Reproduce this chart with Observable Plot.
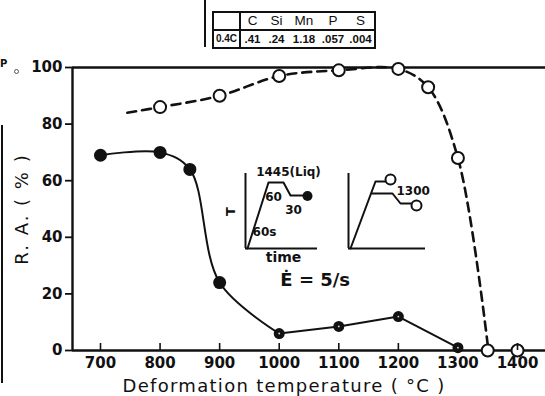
<!DOCTYPE html>
<html><head><meta charset="utf-8">
<script src="https://cdn.jsdelivr.net/npm/d3@7"></script>
<script src="https://cdn.jsdelivr.net/npm/@observablehq/plot@0.6"></script>
<style>
body{margin:0;background:#fff;}
#wrap{position:relative;width:545px;height:396px;overflow:hidden;font-family:"DejaVu Sans",sans-serif;color:#111;background:#fff;}
#wrap svg{position:absolute;overflow:visible;}
table.comp{position:absolute;left:212px;top:11px;border-collapse:collapse;table-layout:fixed;font-family:"Liberation Sans",sans-serif;font-size:11.5px;font-weight:bold;border:2px solid #111;}
table.comp td{padding:0;height:16px;line-height:16px;text-align:center;white-space:nowrap;}
table.comp tr.hdr td{border-bottom:2px solid #111;font-weight:normal;font-size:13.5px;}
table.comp td.first{border-right:2px solid #111;font-size:10px;}
.bar{position:absolute;background:#111;}
.frag{position:absolute;font-family:"DejaVu Sans",sans-serif;font-weight:bold;color:#111;}
.ring{position:absolute;border:1px solid #555;border-radius:50%;}
</style></head><body><div id="wrap"></div>
<script>
// ---- data ----
const elements = ["C", "Si", "Mn", "P", "S"];
const steelGrade = "0.4C";
const composition = [".41", ".24", "1.18", ".057", ".004"];
const colWidths = [27, 24, 25, 30, 28, 28];

const xTicks = [700, 800, 900, 1000, 1100, 1200, 1300, 1400];
const yTicks = [0, 20, 40, 60, 80, 100];

// filled circles, solid line
const solidTemp = [700, 800, 850, 900, 1000, 1100, 1200, 1300];
const solidRA   = [69, 70, 64, 24, 6, 8.5, 12, 1];

// open circles, dashed line
const openTemp = [800, 900, 1000, 1100, 1200, 1250, 1300, 1350, 1400];
const openRA   = [86, 90, 97, 99, 99.5, 93, 68, 0, 0];
const dashTemp = [745, 800, 900, 1000, 1100, 1200, 1250, 1300, 1350];
const dashRA   = [84, 86, 90, 97, 99, 99.5, 93, 68, 2];

// inset 1 : T-time schedule (schematic units)
const in1Time = [2, 23, 38, 45, 60];
const in1Temp = [0, 66, 66, 53, 53];
const in1EndTime = [62], in1EndTemp = [52.5];
const in1Labels = ["1445(Liq)", "60", "30", "60s"];
const in1LabelTime = [43, 28, 48, 19];
const in1LabelTemp = [76, 51, 38, 16];

// inset 2
const in2UpTime = [2, 27, 40];
const in2UpTemp = [0, 67, 67];
const in2LowTime = [23, 44, 52, 64];
const in2LowTemp = [55, 55, 45, 45];
const in2EndTime = [42, 68], in2EndTemp = [69, 43];
const in2Label = "1300";

const xTitle = "Deformation temperature ( °C )";
const yTitle = "R. A. ( % )";
const rateLabel = "Ė = 5/s";

// ---- build ----
const wrap = document.getElementById("wrap");
const ink = "#111";
const solid = solidTemp.map((t, i) => ({t, ra: solidRA[i]}));
const open = openTemp.map((t, i) => ({t, ra: openRA[i]}));
const dash = dashTemp.map((t, i) => ({t, ra: dashRA[i]}));
const plotH = 396 - 67 - 46;

const main = Plot.plot({
  width: 545, height: 396,
  marginLeft: 72, marginRight: 0, marginTop: 67, marginBottom: 46,
  x: {domain: [653, 1447]},
  y: {domain: [0, 100]},
  style: {fontFamily: "DejaVu Sans", color: ink, background: "transparent"},
  marks: [
    Plot.ruleY([0, 100], {stroke: ink, strokeWidth: 2.4}),
    Plot.ruleX([653], {stroke: ink, strokeWidth: 2.4}),
    Plot.ruleX(xTicks, {stroke: ink, strokeWidth: 1.6, insetTop: plotH - 7}),
    Plot.axisY({ticks: yTicks, tickSize: 7, tickPadding: 3, fontSize: 15, fontWeight: "bold", tickFormat: "d", strokeWidth: 1.8, label: null}),
    Plot.axisX({ticks: xTicks, tickSize: 0, tickPadding: 7, fontSize: 15, fontWeight: "bold", tickFormat: "d", label: null}),
    Plot.text([yTitle], {frameAnchor: "left", textAnchor: "middle", lineAnchor: "middle", rotate: -90, dx: -50, fontSize: 18, fill: ink, className: "ytitle"}),
    Plot.text([xTitle], {frameAnchor: "bottom", textAnchor: "middle", lineAnchor: "middle", dy: 36, dx: -25, fontSize: 18, fill: ink, className: "xtitle"}),
    Plot.text([rateLabel], {x: 1000, y: 25, dx: 36, fontSize: 18, fontWeight: "bold", fill: ink}),
    Plot.line(solid.filter(d => d.t <= 1000), {x: "t", y: "ra", curve: "catmull-rom", stroke: ink, strokeWidth: 2}),
    Plot.line(solid.filter(d => d.t >= 1000), {x: "t", y: "ra", stroke: ink, strokeWidth: 2}),
    Plot.line(dash, {x: "t", y: "ra", curve: "catmull-rom", stroke: ink, strokeWidth: 2.6, strokeDasharray: "9,6"}),
    Plot.dot(open, {x: "t", y: "ra", r: 6, fill: "white", stroke: ink, strokeWidth: 2}),
    Plot.ruleX(open.filter(d => d.t === 1400), {x: "t", y1: 0, y2: 2.2, stroke: ink, strokeWidth: 1.6}),
    Plot.dot(solid.filter(d => d.t < 1000), {x: "t", y: "ra", r: 6.5, fill: ink}),
    Plot.dot(solid.filter(d => d.t >= 1000), {x: "t", y: "ra", r: 5.5, fill: ink}),
    Plot.dot(solid.filter(d => d.t >= 1000), {x: "t", y: "ra", r: 0.9, fill: "#ddd"})
  ]
});
main.style.left = "0px"; main.style.top = "0px";
wrap.appendChild(main);
main.querySelectorAll(".xtitle text").forEach(t => t.style.letterSpacing = "1.3px");
main.querySelectorAll(".ytitle text").forEach(t => t.style.letterSpacing = "2px");

function insetPlot(marks) {
  return Plot.plot({
    width: 110, height: 105, margin: 0,
    x: {domain: [-23, 87], range: [0, 110]},
    y: {domain: [-17, 88], range: [105, 0]},
    axis: null,
    style: {fontFamily: "DejaVu Sans", color: ink, background: "transparent"},
    marks
  });
}

const in1 = in1Time.map((t, i) => ({t, T: in1Temp[i]}));
const in1Lab = in1Labels.map((s, i) => ({s, t: in1LabelTime[i], T: in1LabelTemp[i]}));
const inset1 = insetPlot([
  Plot.ruleX([0], {y1: 0, y2: 75, stroke: ink, strokeWidth: 2}),
  Plot.ruleY([0], {x1: 0, x2: 72, stroke: ink, strokeWidth: 2}),
  Plot.line(in1, {x: "t", y: "T", stroke: ink, strokeWidth: 2}),
  Plot.dot(in1EndTime.map((t, i) => ({t, T: in1EndTemp[i]})), {x: "t", y: "T", r: 5, fill: ink}),
  Plot.text(in1Lab, {x: "t", y: "T", text: "s", fontSize: 12, fontWeight: "bold", fill: ink}),
  Plot.text(["T"], {x: -15, y: 37, rotate: -90, fontSize: 13, fontWeight: "bold", fill: ink}),
  Plot.text(["time"], {x: 38, y: -9, fontSize: 14, fontWeight: "bold", fill: ink})
]);
inset1.style.left = "222px"; inset1.style.top = "160px";
wrap.appendChild(inset1);

const in2Up = in2UpTime.map((t, i) => ({t, T: in2UpTemp[i]}));
const in2Low = in2LowTime.map((t, i) => ({t, T: in2LowTemp[i]}));
const inset2 = insetPlot([
  Plot.ruleX([0], {y1: 0, y2: 75, stroke: ink, strokeWidth: 2}),
  Plot.ruleY([0], {x1: 0, x2: 77, stroke: ink, strokeWidth: 2}),
  Plot.line(in2Up, {x: "t", y: "T", stroke: ink, strokeWidth: 2}),
  Plot.line(in2Low, {x: "t", y: "T", stroke: ink, strokeWidth: 2}),
  Plot.dot(in2EndTime.map((t, i) => ({t, T: in2EndTemp[i]})), {x: "t", y: "T", r: 5, fill: "white", stroke: ink, strokeWidth: 2}),
  Plot.text([in2Label], {x: 48, y: 57, textAnchor: "start", fontSize: 12, fontWeight: "bold", fill: ink})
]);
inset2.style.left = "325px"; inset2.style.top = "160px";
wrap.appendChild(inset2);

// composition table
const table = document.createElement("table");
table.className = "comp";
const cg = document.createElement("colgroup");
colWidths.forEach(w => { const c = document.createElement("col"); c.style.width = w + "px"; cg.appendChild(c); });
table.appendChild(cg);
const r1 = document.createElement("tr"); r1.className = "hdr";
const r2 = document.createElement("tr");
[""].concat(elements).forEach((s, i) => { const td = document.createElement("td"); td.textContent = s; if (i === 0) td.className = "first"; r1.appendChild(td); });
[steelGrade].concat(composition).forEach((s, i) => { const td = document.createElement("td"); td.textContent = s; if (i === 0) td.className = "first"; r2.appendChild(td); });
table.appendChild(r1); table.appendChild(r2);
wrap.appendChild(table);

// scan fragments at edges
const bar1 = document.createElement("div"); bar1.className = "bar";
Object.assign(bar1.style, {left: "204px", top: "0px", width: "2px", height: "47px"});
wrap.appendChild(bar1);
const bar2 = document.createElement("div"); bar2.className = "bar";
Object.assign(bar2.style, {left: "1px", top: "125px", width: "2px", height: "258px"});
wrap.appendChild(bar2);
const frag = document.createElement("div"); frag.className = "frag";
frag.textContent = "P";
Object.assign(frag.style, {left: "0px", top: "58px", fontSize: "10px"});
wrap.appendChild(frag);
const ring = document.createElement("div"); ring.className = "ring";
Object.assign(ring.style, {left: "14px", top: "69px", width: "3px", height: "3px"});
wrap.appendChild(ring);
</script></body></html>
